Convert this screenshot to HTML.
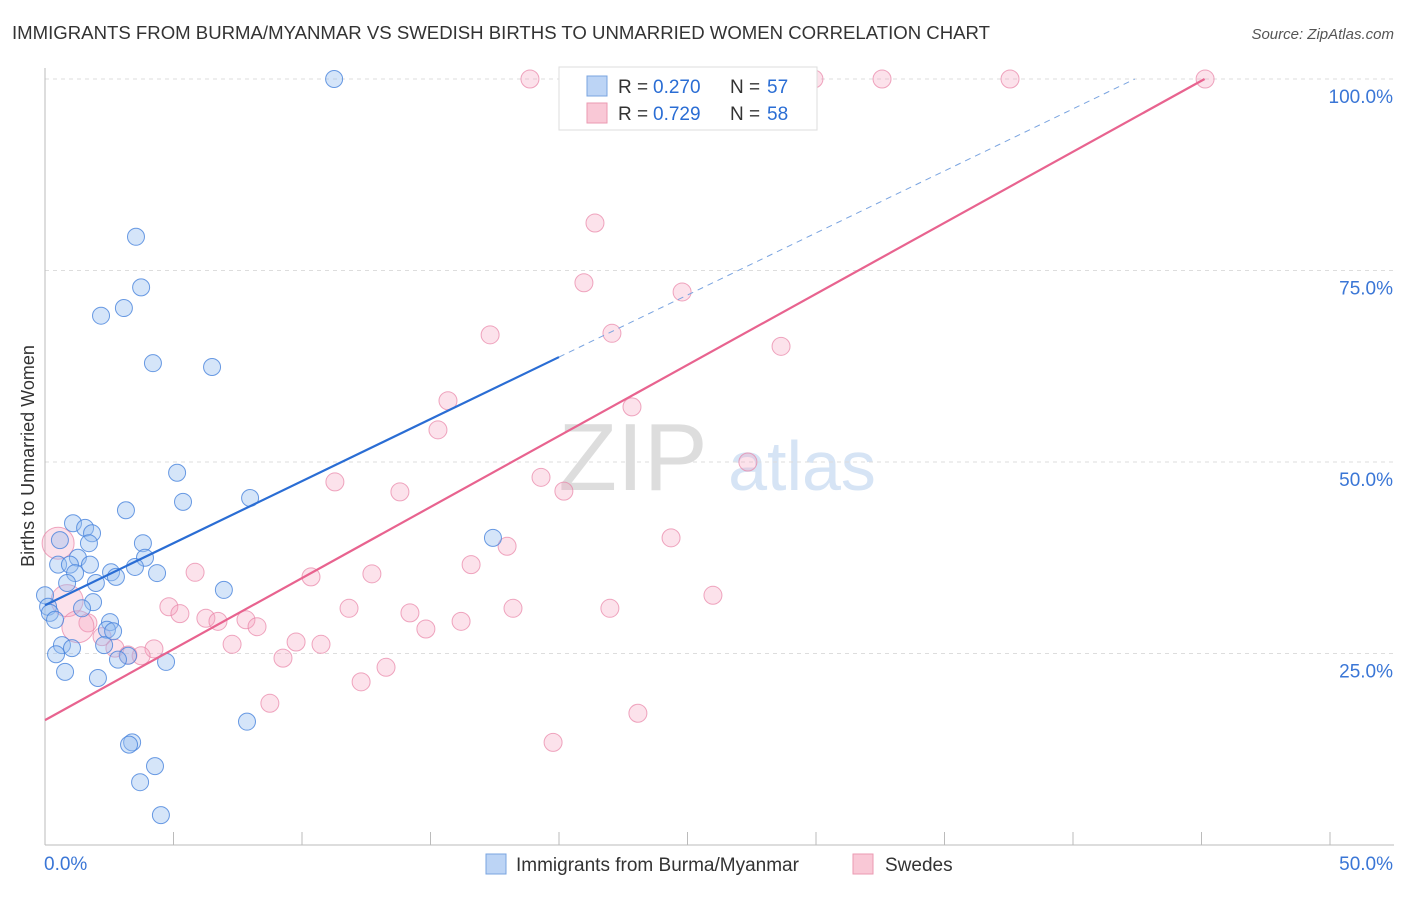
<!DOCTYPE html>
<html><head><meta charset="utf-8"><style>
body{margin:0;background:#fff;font-family:"Liberation Sans",sans-serif}
svg text{font-family:"Liberation Sans",sans-serif}
</style></head><body>
<svg id="c" width="1406" height="892">
<text x="12" y="39" font-size="18" fill="#333" textLength="978" lengthAdjust="spacingAndGlyphs">IMMIGRANTS FROM BURMA/MYANMAR VS SWEDISH BIRTHS TO UNMARRIED WOMEN CORRELATION CHART</text>
<text x="1394" y="39" font-size="15" fill="#555" font-style="italic" text-anchor="end">Source: ZipAtlas.com</text>
<text x="633" y="490" font-size="96" fill="#ddd" font-family="Liberation Serif" text-anchor="middle">ZIP</text>
<text x="802" y="490" font-size="70" fill="#d6e4f5" text-anchor="middle">atlas</text>
<g id="grid"></g><g id="pts"></g><g id="trend"></g>
<text transform="translate(34,456) rotate(-90)" font-size="18" fill="#333" text-anchor="middle">Births to Unmarried Women</text>
<g>
<rect x="559" y="67" width="258" height="63" fill="#fff" stroke="#ddd"/>
<rect x="587" y="76" width="20" height="20" fill="#bcd4f5" stroke="#7aa4e0"/>
<rect x="587" y="103" width="20" height="20" fill="#f9c8d6" stroke="#eb9ab2"/>
<text x="618" y="93" font-size="19" fill="#333">R = </text>
<text x="653" y="93" font-size="19" fill="#2a6dd4">0.270</text>
<text x="730" y="93" font-size="19" fill="#333">N = </text>
<text x="767" y="93" font-size="19" fill="#2a6dd4">57</text>
<text x="618" y="120" font-size="19" fill="#333">R = </text>
<text x="653" y="120" font-size="19" fill="#2a6dd4">0.729</text>
<text x="730" y="120" font-size="19" fill="#333">N = </text>
<text x="767" y="120" font-size="19" fill="#2a6dd4">58</text>
</g>
<g>
<rect x="486" y="854" width="20" height="20" fill="#bcd4f5" stroke="#7aa4e0"/>
<text x="516" y="871" font-size="19" fill="#333">Immigrants from Burma/Myanmar</text>
<rect x="853" y="854" width="20" height="20" fill="#f9c8d6" stroke="#eb9ab2"/>
<text x="885" y="871" font-size="19" fill="#333">Swedes</text>
</g>
</svg>
<script>
const blueX=[11.25,3.54,3.74,2.18,3.07,4.2,6.5,5.14,5.37,7.98,3.15,1.09,1.56,1.83,0.58,1.71,3.81,17.43,1.28,3.89,0.51,0.97,1.75,3.5,1.17,2.57,2.76,4.36,0.86,1.98,6.96,0,1.87,0.12,1.44,0.19,0.39,2.53,2.41,2.65,0.66,2.3,1.05,0.43,3.23,2.84,4.71,0.78,2.06,7.86,3.39,3.27,4.28,3.7,4.51];
const blueY=[100,79.4,72.8,69.1,70.1,62.9,62.4,48.6,44.8,45.3,43.7,42.0,41.4,40.7,39.8,39.4,39.4,40.1,37.5,37.5,36.6,36.6,36.6,36.3,35.5,35.6,35.0,35.5,34.2,34.2,33.3,32.6,31.7,31.1,30.9,30.3,29.4,29.1,28.1,27.9,26.1,26.1,25.7,24.9,24.7,24.2,23.9,22.6,21.8,16.1,13.4,13.1,10.3,8.2,3.9];
const pinkX=[18.87,27.55,29.92,32.57,37.55,45.14,21.4,20.97,24.79,17.32,22.06,28.64,15.68,22.84,15.29,27.35,19.3,11.28,20.19,13.81,24.36,17.98,0.51,16.58,5.84,12.72,10.35,25.99,0.86,4.82,11.83,18.21,21.98,5.25,14.2,6.26,6.73,7.82,16.19,1.67,8.25,14.82,1.28,2.22,7.28,9.77,10.74,2.72,4.24,3.23,3.74,9.26,13.27,12.3,8.75,23.07,19.77];
const pinkY=[100,100,100,100,100,100,81.2,73.4,72.2,66.6,66.8,65.1,58.0,57.2,54.2,50.0,48.0,47.4,46.2,46.1,40.1,39.0,39.4,36.6,35.6,35.4,35.0,32.6,31.9,31.1,30.9,30.9,30.9,30.2,30.3,29.6,29.2,29.4,29.2,29.0,28.5,28.2,28.5,27.2,26.2,26.5,26.2,25.7,25.6,24.8,24.7,24.4,23.2,21.3,18.5,17.2,13.4];
const pinkBig=[22,28,42];
const yTicks=[25,50,75,100];
const yTickLabels=["25.0%","50.0%","75.0%","100.0%"];
const xTicks=[0,5,10,15,20,25,30,35,40,45,50];
const blueTrend=[31.3,1.62];   // intercept, slope
const pinkTrend=[16.3,1.855];
const NS="http://www.w3.org/2000/svg";
const X=v=>45+v*25.7, Y=v=>845-v*7.66;
function mk(p,t,a){const e=document.createElementNS(NS,t);for(const k in a)e.setAttribute(k,a[k]);p.appendChild(e);return e;}
const g=document.getElementById('grid'),pts=document.getElementById('pts'),tr=document.getElementById('trend'),svg=document.getElementById('c');
yTicks.forEach((v,i)=>{
 const l=mk(g,'line',{x1:45,x2:1394,y1:Y(v),y2:Y(v),stroke:'#ddd','stroke-dasharray':'4,4'});
 
 
 const t=mk(svg,'text',{x:1393,y:Y(v)+24,'font-size':19,fill:'#3a76d6','text-anchor':'end'});
 t.textContent=yTickLabels[i];
 
 
});
const ax=mk(g,'line',{x1:45,x2:45,y1:68,y2:845,stroke:'#bbb'});


const bx=mk(g,'line',{x1:45,x2:1394,y1:845,y2:845,stroke:'#bbb'});


xTicks.forEach(v=>{const l=mk(g,'line',{x1:X(v),x2:X(v),y1:832,y2:845,stroke:'#bbb'});
 
 });
[[0,'0.0%',44,'start'],[50,'50.0%',1393,'end']].forEach(a=>{const t=mk(svg,'text',{x:a[2],y:870,'font-size':19,fill:'#3a76d6','text-anchor':a[3]});t.textContent=a[1];
 
 });
pinkX.forEach((x,i)=>{const r=pinkBig.includes(i)?16:9;
 const c=mk(pts,'circle',{cx:X(x),cy:Y(pinkY[i]),r:r,fill:'rgba(245,160,190,0.3)',stroke:'rgba(232,130,165,0.7)'});
 
 });
blueX.forEach((x,i)=>{
 const c=mk(pts,'circle',{cx:X(x),cy:Y(blueY[i]),r:8.5,fill:'rgba(150,190,240,0.4)',stroke:'rgba(70,130,220,0.8)'});
 
 });
const bxEnd=(100-blueTrend[0])/blueTrend[1];
const b1=mk(tr,'line',{x1:X(0),y1:Y(blueTrend[0]),x2:X(20),y2:Y(blueTrend[0]+20*blueTrend[1]),stroke:'#2a6dd4','stroke-width':2.2});


const b2=mk(tr,'line',{x1:X(20),y1:Y(blueTrend[0]+20*blueTrend[1]),x2:X(bxEnd),y2:Y(100),stroke:'#7aa4e0','stroke-width':1,'stroke-dasharray':'6,5'});


const pxEnd=(100-pinkTrend[0])/pinkTrend[1];
const p1=mk(tr,'line',{x1:X(0),y1:Y(pinkTrend[0]),x2:X(pxEnd),y2:Y(100),stroke:'#e8638f','stroke-width':2.2});


</script>
</body></html>
